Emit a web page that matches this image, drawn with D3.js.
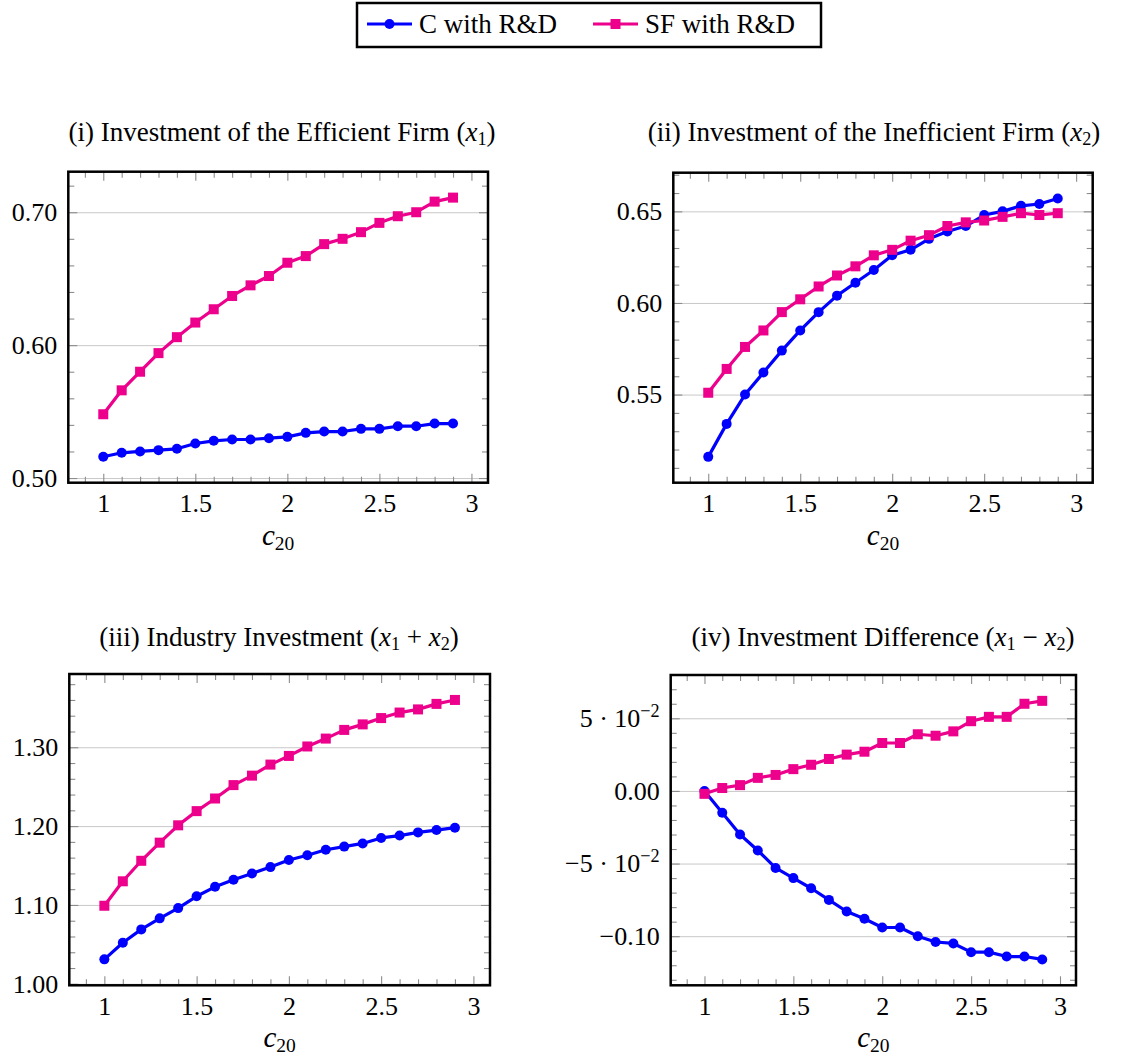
<!DOCTYPE html>
<meta charset="utf-8">
<style>
    body { margin: 0; background: #fff; }
    svg text { font-family: "Liberation Serif", "Times New Roman", serif; fill: #000; }
    .grid line { stroke: #c8c8c8; stroke-width: 1; }
    .grid path, .ticks path { display: none; }
    .ticks line { stroke: #8c8c8c; stroke-width: 1.1; }
    .frame { fill: none; stroke: #000; stroke-width: 2.5; }
</style>
<body>
<script src="https://cdnjs.cloudflare.com/ajax/libs/d3/7.8.5/d3.min.js"></script>
<script>
    // c20 values on the x axis
    const xValues = [1.0, 1.1, 1.2, 1.3, 1.4, 1.5, 1.6, 1.7, 1.8, 1.9, 2.0, 2.1, 2.2, 2.3, 2.4, 2.5, 2.6, 2.7, 2.8, 2.9];
    const xTicks = [1, 1.5, 2, 2.5, 3];
    const xTickLabels = ["1", "1.5", "2", "2.5", "3"];

    const seriesNames = ["C with R&D", "SF with R&D"];

    // (i) x1
    const cX1 = [0.516, 0.519, 0.520, 0.521, 0.522, 0.526, 0.528, 0.529, 0.529, 0.530, 0.531, 0.534, 0.535, 0.535, 0.537, 0.537, 0.539, 0.539, 0.541, 0.541];
    const sfX1 = [0.548, 0.566, 0.580, 0.594, 0.606, 0.617, 0.627, 0.637, 0.645, 0.652, 0.662, 0.667, 0.676, 0.680, 0.685, 0.692, 0.697, 0.700, 0.708, 0.711];
    // (ii) x2
    const cX2 = [0.516, 0.534, 0.550, 0.562, 0.574, 0.585, 0.595, 0.604, 0.611, 0.618, 0.626, 0.629, 0.635, 0.639, 0.642, 0.648, 0.650, 0.653, 0.654, 0.657];
    const sfX2 = [0.551, 0.564, 0.576, 0.585, 0.595, 0.602, 0.609, 0.615, 0.620, 0.626, 0.629, 0.634, 0.637, 0.642, 0.644, 0.645, 0.647, 0.649, 0.648, 0.649];
    // (iii) x1 + x2
    const cSum = [1.031, 1.052, 1.069, 1.083, 1.096, 1.111, 1.123, 1.132, 1.140, 1.148, 1.157, 1.163, 1.170, 1.174, 1.178, 1.185, 1.188, 1.192, 1.195, 1.198];
    const sfSum = [1.099, 1.130, 1.156, 1.179, 1.201, 1.219, 1.235, 1.252, 1.264, 1.278, 1.289, 1.301, 1.311, 1.322, 1.329, 1.337, 1.344, 1.348, 1.355, 1.360];
    // (iv) x1 - x2
    const cDiff = [0.000, -0.015, -0.030, -0.041, -0.053, -0.060, -0.067, -0.075, -0.083, -0.088, -0.094, -0.094, -0.100, -0.104, -0.105, -0.111, -0.111, -0.114, -0.114, -0.116];
    const sfDiff = [-0.002, 0.002, 0.004, 0.009, 0.011, 0.015, 0.018, 0.022, 0.025, 0.027, 0.033, 0.033, 0.039, 0.038, 0.041, 0.048, 0.051, 0.051, 0.060, 0.062];

    const yTicks1 = [0.50, 0.60, 0.70];
    const yTickLabels1 = ["0.50", "0.60", "0.70"];
    const yTicks2 = [0.55, 0.60, 0.65];
    const yTickLabels2 = ["0.55", "0.60", "0.65"];
    const yTicks3 = [1.00, 1.10, 1.20, 1.30];
    const yTickLabels3 = ["1.00", "1.10", "1.20", "1.30"];
    const yTicks4 = [-0.10, -0.05, 0, 0.05];
    const yTickLabels4 = ["\u22120.10", "\u22125 \u00b7 10^\u22122", "0.00", "5 \u00b7 10^\u22122"];

    // title pieces: [text, kind]  kind: n normal, i italic, s subscript
    const titles = [
        [["(i) Investment of the Efficient Firm (", "n"], ["x", "i"], ["1", "s"], [")", "n"]],
        [["(ii) Investment of the Inefficient Firm (", "n"], ["x", "i"], ["2", "s"], [")", "n"]],
        [["(iii) Industry Investment (", "n"], ["x", "i"], ["1", "s"], [" + ", "n"], ["x", "i"], ["2", "s"], [")", "n"]],
        [["(iv) Investment Difference (", "n"], ["x", "i"], ["1", "s"], [" \u2212 ", "n"], ["x", "i"], ["2", "s"], [")", "n"]]
    ];

    const colors = ["#0000ff", "#ec008c"];
    const fontSize = 26;
    const serif = "Liberation Serif, Times New Roman, serif";

    // panel boxes [left, right, top, bottom], title centre
    const panels = [
        {box: [68.3, 488, 171.7, 482.7], tx: 282, ty: 141, c: cX1, sf: sfX1, yt: yTicks1, yl: yTickLabels1, minor: 0.02, title: titles[0]},
        {box: [673.3, 1092.7, 172.7, 482.7], tx: 874, ty: 141, c: cX2, sf: sfX2, yt: yTicks2, yl: yTickLabels2, minor: 0.01, title: titles[1]},
        {box: [69.3, 490, 674, 985.3], tx: 279, ty: 646, c: cSum, sf: sfSum, yt: yTicks3, yl: yTickLabels3, minor: 0.02, title: titles[2]},
        {box: [670.7, 1076, 675, 985.3], tx: 883, ty: 646, c: cDiff, sf: sfDiff, yt: yTicks4, yl: yTickLabels4, minor: 0.01, title: titles[3]}
    ];

    const svg = d3.select("body").append("svg")
        .attr("width", 1125)
        .attr("height", 1057)
        .attr("font-family", serif);

    function writeMath(text, pieces) {
        let shifted = false;
        pieces.forEach(function (p) {
            const t = text.append("tspan").text(p[0]);
            if (p[1] === "i") t.attr("font-style", "italic");
            if (p[1] === "s") {
                t.attr("font-size", fontSize * 0.7).attr("dy", 4);
                shifted = true;
            } else if (shifted) {
                t.attr("dy", -4);
                shifted = false;
            }
        });
    }

    function ticksBetween(lo, hi, step) {
        const out = [];
        const a = Math.ceil(lo / step - 1e-9), b = Math.floor(hi / step + 1e-9);
        for (let i = a; i <= b; i++) out.push(+(i * step).toFixed(6));
        return out;
    }

    function drawPanel(p) {
        const w = p.box[1] - p.box[0], h = p.box[3] - p.box[2];
        const g = svg.append("g").attr("transform", "translate(" + p.box[0] + "," + p.box[2] + ")");

        const xe = d3.extent(xValues), xpad = (xe[1] - xe[0]) * 0.1;
        const x = d3.scaleLinear().domain([xe[0] - xpad, xe[1] + xpad]).range([0, w]);
        const ye = d3.extent(p.c.concat(p.sf)), ypad = (ye[1] - ye[0]) * 0.1;
        const y = d3.scaleLinear().domain([ye[0] - ypad, ye[1] + ypad]).range([h, 0]);

        const xMinor = ticksBetween(x.domain()[0], x.domain()[1], 0.1).filter(v => xTicks.indexOf(v) < 0);
        const yMinor = ticksBetween(y.domain()[0], y.domain()[1], p.minor).filter(v => !p.yt.some(t => Math.abs(t - v) < 1e-6));

        g.append("g").attr("class", "grid")
            .call(d3.axisLeft(y).tickValues(p.yt).tickSize(-w).tickFormat(""));

        // ticks on all four sides, pointing inward
        const sides = [
            [d3.axisBottom, "translate(0," + h + ")", x, xTicks, xMinor],
            [d3.axisTop, null, x, xTicks, xMinor],
            [d3.axisLeft, null, y, p.yt, yMinor],
            [d3.axisRight, "translate(" + w + ",0)", y, p.yt, yMinor]
        ];
        sides.forEach(function (s) {
            [[s[3], 9], [s[4], 6]].forEach(function (m) {
                const a = g.append("g").attr("class", "ticks")
                    .call(s[0](s[2]).tickValues(m[0]).tickSize(-m[1]).tickFormat(""));
                if (s[1]) a.attr("transform", s[1]);
            });
        });

        // x tick labels
        g.append("g")
            .attr("transform", "translate(0," + h + ")")
            .call(d3.axisBottom(x).tickValues(xTicks).tickSize(0).tickPadding(11)
                .tickFormat((d, i) => xTickLabels[i]))
            .attr("font-family", serif).attr("font-size", fontSize)
            .call(a => a.select(".domain").remove());

        // y tick labels (^ marks a superscript)
        g.append("g")
            .call(d3.axisLeft(y).tickValues(p.yt).tickSize(0).tickPadding(11).tickFormat(""))
            .attr("font-family", serif).attr("font-size", fontSize)
            .call(a => a.select(".domain").remove())
            .selectAll("text")
            .each(function (d, i) {
                const parts = p.yl[i].split("^");
                const t = d3.select(this);
                t.append("tspan").text(parts[0]);
                if (parts[1]) {
                    t.append("tspan").text(parts[1]).attr("font-size", fontSize * 0.7).attr("dy", -10);
                }
            });

        const line = d3.line().x((d, i) => x(xValues[i])).y(d => y(d));
        [p.c, p.sf].forEach(function (vals, k) {
            g.append("path").datum(vals)
                .attr("d", line)
                .attr("fill", "none")
                .attr("stroke", colors[k])
                .attr("stroke-width", 3.2)
                .attr("stroke-linejoin", "round");
        });
        g.selectAll(".dot").data(p.c).enter().append("circle")
            .attr("cx", (d, i) => x(xValues[i])).attr("cy", d => y(d))
            .attr("r", 5).attr("fill", colors[0]);
        g.selectAll(".sq").data(p.sf).enter().append("rect")
            .attr("x", (d, i) => x(xValues[i]) - 5).attr("y", d => y(d) - 5)
            .attr("width", 10).attr("height", 10).attr("fill", colors[1]);

        g.append("rect").attr("class", "frame").attr("width", w).attr("height", h);

        // x axis label c20
        const xl = g.append("text").attr("x", w / 2).attr("y", h + 62)
            .attr("text-anchor", "middle").attr("font-size", fontSize + 3);
        xl.append("tspan").attr("font-style", "italic").text("c");
        xl.append("tspan").attr("font-size", fontSize * 0.75).attr("dy", 5).text("20");

        const tt = svg.append("text").attr("x", p.tx).attr("y", p.ty)
            .attr("text-anchor", "middle").attr("font-size", fontSize + 1);
        writeMath(tt, p.title);
    }

    panels.forEach(drawPanel);

    // legend
    const lg = svg.append("g");
    lg.append("rect").attr("x", 357).attr("y", 3).attr("width", 464).attr("height", 44)
        .attr("fill", "#fff").attr("stroke", "#000").attr("stroke-width", 2.5);
    const legendX = [[367, 419], [593, 645]];
    seriesNames.forEach(function (name, k) {
        const lx = legendX[k][0];
        lg.append("line").attr("x1", lx).attr("x2", lx + 45).attr("y1", 24).attr("y2", 24)
            .attr("stroke", colors[k]).attr("stroke-width", 3.2);
        if (k === 0) {
            lg.append("circle").attr("cx", lx + 22.5).attr("cy", 24).attr("r", 5).attr("fill", colors[0]);
        } else {
            lg.append("rect").attr("x", lx + 22.5 - 5).attr("y", 24 - 5).attr("width", 10).attr("height", 10).attr("fill", colors[1]);
        }
        lg.append("text").attr("x", legendX[k][1]).attr("y", 33).attr("font-size", fontSize + 1).text(name);
    });
</script>
</body>
</html>
